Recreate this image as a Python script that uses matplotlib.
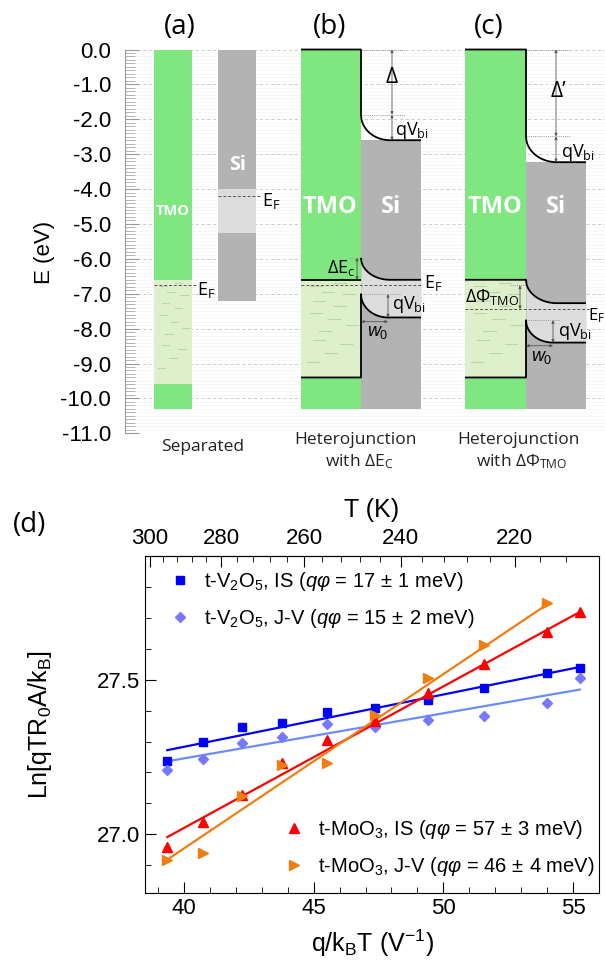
import numpy as np
import matplotlib
matplotlib.use("Agg")
import matplotlib.pyplot as plt
from matplotlib.ticker import MultipleLocator, FixedLocator, FormatStrFormatter

plt.rcParams["font.family"] = ["Liberation Sans", "DejaVu Sans"]
plt.rcParams["axes.unicode_minus"] = False
plt.rcParams["mathtext.fontset"] = "custom"
plt.rcParams["mathtext.rm"] = "Liberation Sans"
plt.rcParams["mathtext.it"] = "Liberation Sans:italic"
plt.rcParams["mathtext.sf"] = "Open Sans"

W, H = 605, 974

# ── (a)-(c) band energies (eV) ─────────────────────────────
# TMO: top, light band top, light band bottom, bottom, Fermi level
tmo_sep = [0.0, -6.6, -9.6, -10.3, -6.76]
tmo_het = [0.0, -6.6, -9.4, -10.3, -6.76]
# separated Si: top, gap top, gap bottom, bottom, Fermi level
si_sep = [0.0, -4.0, -5.25, -7.2, -4.2]
# heterojunction Si: [interface, bulk] for top edge, CB and VB
si_b_top = [-1.87, -2.6]
si_b_cb = [-5.97, -6.6]
si_b_vb = [-7.01, -7.68]
si_b_ef = -6.76
si_c_top = [-2.49, -3.23]
si_c_cb = [-6.6, -7.27]
si_c_vb = [-7.76, -8.4]
si_c_ef = -7.44
si_bottom = -10.3

# ── (d) Arrhenius data ────────────────────────────────────
inv_kT = [39.36, 40.75, 42.22, 43.78, 45.52, 47.37, 49.40, 51.58, 53.98, 55.26]
v2o5_is = [27.236, 27.299, 27.347, 27.361, 27.394, 27.408, 27.434, 27.472, 27.520, 27.538]
v2o5_jv = [27.209, 27.245, 27.294, 27.315, 27.356, 27.346, 27.369, 27.382, 27.425, 27.504]
moo3_is = [26.958, 27.039, 27.128, 27.231, 27.304, 27.366, 27.457, 27.552, 27.655, 27.719]
moo3_jv = [26.918, 26.938, 27.123, 27.225, 27.229, 27.385, 27.504, 27.612, 27.747]

fit_x = [39.36, 55.26]
fit_x_jv = [39.36, 54.10]
fit_v2o5_is = [27.272, 27.541]
fit_v2o5_jv = [27.236, 27.468]
fit_moo3_is = [26.991, 27.719]
fit_moo3_jv = [26.918, 27.749]

T_ticks = [300, 280, 260, 240, 220]
T_minor = list(range(212, 304, 4))
Q_OVER_K = 11604.5   # q/k_B in K/V

# ── Colours ───────────────────────────────────────────────
GREEN = "#80E680"
LGREEN = "#DDF0CB"
GREY = "#B3B3B3"
LGREY = "#DCDCDC"
ANN = "#555555"

fig = plt.figure(figsize=(W / 100, H / 100), dpi=100)


def fx(px):
    return px / W


def fy(py):
    return 1 - py / H


# ══════════════════════════════════════════════════════════
#  Band diagrams
# ══════════════════════════════════════════════════════════
ax = fig.add_axes([fx(125), fy(433.3), fx(605) - fx(125), fy(49.5) - fy(433.3)])
ax.set_xlim(125, 605)
ax.set_ylim(-11, 0)
for s in ["top", "right", "bottom"]:
    ax.spines[s].set_visible(False)
ax.spines["left"].set_color("#999999")
ax.xaxis.set_visible(False)
ax.yaxis.set_major_locator(MultipleLocator(1))
ax.yaxis.set_minor_locator(MultipleLocator(0.1))
ax.yaxis.set_major_formatter(FormatStrFormatter("%.1f"))
ax.tick_params(axis="y", which="major", direction="in", length=10, color="#999999",
               labelsize=16, pad=10)
ax.tick_params(axis="y", which="minor", direction="in", length=7, color="#aaaaaa", width=0.6)
ax.grid(True, which="major", axis="y", ls=(0, (4, 3)), color="#c4c4c4", lw=0.6)
ax.grid(True, which="minor", axis="y", ls="-", color="#f4f4f4", lw=0.5)
ax.set_axisbelow(True)
ax.set_ylabel("E (eV)", fontsize=16)
ax.yaxis.set_label_coords(-0.145, 0.47)

DASHES = [(0.15, 0.06), (0.55, 0.03), (0.35, 0.12), (0.7, 0.15), (0.2, 0.22),
          (0.55, 0.27), (0.15, 0.34), (0.45, 0.40), (0.75, 0.46), (0.3, 0.52),
          (0.2, 0.62), (0.65, 0.66), (0.4, 0.75), (0.1, 0.84)]


def block(x0, x1, top, bottom, color, z=1):
    ax.bar((x0 + x1) / 2, top - bottom, bottom=bottom, width=x1 - x0,
           color=color, lw=0, zorder=z)


def texture(x0, x1, top, bottom):
    for dx, dy in DASHES:
        xa = x0 + dx * (x1 - x0)
        ya = top + dy * (bottom - top)
        ax.plot([xa, xa + 0.2 * (x1 - x0)], [ya, ya], color="#bcd6ac", lw=0.8, zorder=2)


def bend(x0, w, x1, lev):
    t = np.linspace(0, 1, 60)
    xs = x0 + w * t
    ys = lev[1] + (lev[0] - lev[1]) * (1 - np.sqrt(1 - (1 - t) ** 2))
    return np.append(xs, x1), np.append(ys, lev[1])


def black(xs, ys):
    ax.plot(xs, ys, color="black", lw=1.3, zorder=5, clip_on=False, solid_capstyle="butt")


def dotted(x0, x1, y):
    ax.plot([x0, x1], [y, y], color="#999999", lw=0.7, ls=(0, (1, 1.2)), zorder=4)


def varrow(x, y0, y1):
    ax.annotate("", xy=(x, y1), xytext=(x, y0),
                arrowprops=dict(arrowstyle="<|-|>", color=ANN, lw=0.6,
                                mutation_scale=4, shrinkA=0, shrinkB=0), zorder=6)


def harrow(x0, x1, y):
    ax.annotate("", xy=(x1, y), xytext=(x0, y),
                arrowprops=dict(arrowstyle="<|-|>", color=ANN, lw=0.6,
                                mutation_scale=4, shrinkA=0, shrinkB=0), zorder=6)


def ef_line(x0, x1, y):
    ax.plot([x0, x1], [y, y], color="#555555", lw=0.7, ls=(0, (3, 2)), zorder=4)


LBL = dict(fontsize=13, family="Open Sans", va="center", zorder=7)

# (a) separated
block(154, 191.5, tmo_sep[0], tmo_sep[1], GREEN)
block(154, 191.5, tmo_sep[1], tmo_sep[2], LGREEN)
block(154, 191.5, tmo_sep[2], tmo_sep[3], GREEN)
texture(154, 191.5, tmo_sep[1], tmo_sep[2])
ef_line(154, 196, tmo_sep[4])
ax.text(197, tmo_sep[4] - 0.12, "E$_\\mathsf{F}$", **LBL)
block(218, 256, si_sep[0], si_sep[1], GREY)
block(218, 256, si_sep[1], si_sep[2], LGREY)
block(218, 256, si_sep[2], si_sep[3], GREY)
ef_line(218, 261, si_sep[4])
ax.text(262, si_sep[4] - 0.15, "E$_\\mathsf{F}$", **LBL)
ax.text(172.5, -4.63, "TMO", color="white", fontsize=10.5, fontweight="bold",
        family="Open Sans", ha="center", va="center", zorder=7)
ax.text(237, -3.3, "Si", color="white", fontsize=14, fontweight="bold",
        family="Open Sans", ha="center", va="center", zorder=7)

# (b) heterojunction with dEc
bx0, bi, bx1, bw = 301, 361, 421, 29
block(bx0, bi, tmo_het[0], tmo_het[1], GREEN)
block(bx0, bi, tmo_het[1], tmo_het[2], LGREEN)
block(bx0, bi, tmo_het[2], tmo_het[3], GREEN)
texture(bx0, bi, tmo_het[1], tmo_het[2])
block(bi, bx1, si_b_top[1], si_bottom, GREY)
xc, yc = bend(bi, bw, bx1, si_b_cb)
xv, yv = bend(bi, bw - 2, bx1, si_b_vb)
ax.fill_between(xc, yc, np.interp(xc, xv, yv), color=LGREY, lw=0, zorder=2)
xt, yt = bend(bi, bw, bx1, si_b_top)
black(np.r_[bx0, bi, xt], np.r_[0.0, 0.0, yt])
black(np.r_[bx0, bi], [tmo_het[1], tmo_het[1]])
black(xc, yc)
black(np.r_[xv[::-1], bi, bx0], np.r_[yv[::-1], tmo_het[2], tmo_het[2]])
ef_line(bx0, bx1, si_b_ef)
dotted(bi, 405, 0.0)
dotted(bi, 405, si_b_top[0])
dotted(349, bi, si_b_cb[0])
dotted(bi, 400, si_b_vb[0])
varrow(392, 0.0, si_b_top[0])
varrow(392, si_b_top[0], si_b_top[1])
varrow(357, si_b_cb[0], si_b_cb[1])
varrow(388, si_b_vb[0], si_b_vb[1])
harrow(bi, 388, -7.8)
ax.text(392, -0.8, "Δ", ha="center", **dict(LBL, fontsize=15))
ax.text(395, -2.33, "qV$_\\mathsf{bi}$", **LBL)
ax.text(355, -6.27, "ΔE$_\\mathsf{c}$", ha="right", **LBL)
ax.text(424, -6.7, "E$_\\mathsf{F}$", **LBL)
ax.text(392, -7.3, "qV$_\\mathsf{bi}$", **LBL)
ax.text(378, -8.1, "$w_0$", ha="center", **LBL)
ax.text(330, -4.5, "TMO", color="white", fontsize=17, fontweight="bold",
        family="Open Sans", ha="center", va="center", zorder=7)
ax.text(391, -4.5, "Si", color="white", fontsize=17, fontweight="bold",
        family="Open Sans", ha="center", va="center", zorder=7)

# (c) heterojunction with dPhi
cx0, ci, cx1, cw = 465, 526, 586, 31
block(cx0, ci, tmo_het[0], tmo_het[1], GREEN)
block(cx0, ci, tmo_het[1], tmo_het[2], LGREEN)
block(cx0, ci, tmo_het[2], tmo_het[3], GREEN)
texture(cx0, ci, tmo_het[1], tmo_het[2])
block(ci, cx1, si_c_top[1], si_bottom, GREY)
xc, yc = bend(ci, cw, cx1, si_c_cb)
xv, yv = bend(ci, cw - 4, cx1, si_c_vb)
ax.fill_between(xc, yc, np.interp(xc, xv, yv), color=LGREY, lw=0, zorder=2)
xt, yt = bend(ci, cw, cx1, si_c_top)
black(np.r_[cx0, ci, xt], np.r_[0.0, 0.0, yt])
black(np.r_[cx0, xc], np.r_[tmo_het[1], yc])
black(np.r_[xv[::-1], ci, cx0], np.r_[yv[::-1], tmo_het[2], tmo_het[2]])
ef_line(cx0, 589, si_c_ef)
dotted(ci, 570, 0.0)
dotted(ci, 570, si_c_top[0])
dotted(510, ci, tmo_het[4])
dotted(ci, 560, si_c_vb[0])
varrow(556, 0.0, si_c_top[0])
varrow(556, si_c_top[0], si_c_top[1])
varrow(520, tmo_het[4], si_c_ef)
varrow(553, si_c_vb[0], si_c_vb[1])
harrow(ci, 553, -8.49)
ax.text(558, -1.2, "Δ’", ha="center", **dict(LBL, fontsize=15))
ax.text(561, -2.95, "qV$_\\mathsf{bi}$", **LBL)
ax.text(519, -7.1, "ΔΦ$_\\mathsf{TMO}$", ha="right", **LBL)
ax.text(588, -7.62, "E$_\\mathsf{F}$", **dict(LBL, fontsize=12))
ax.text(558, -8.07, "qV$_\\mathsf{bi}$", **LBL)
ax.text(542, -8.8, "$w_0$", ha="center", **LBL)
ax.text(495, -4.5, "TMO", color="white", fontsize=17, fontweight="bold",
        family="Open Sans", ha="center", va="center", zorder=7)
ax.text(556, -4.5, "Si", color="white", fontsize=17, fontweight="bold",
        family="Open Sans", ha="center", va="center", zorder=7)

# panel letters and captions
for x, s in [(180, "(a)"), (330, "(b)"), (489, "(c)"), (30, "(d)")]:
    fig.text(fx(x), fy(27 if s != "(d)" else 525), s, fontsize=20, family="Open Sans",
             ha="center", va="center")
CAP = dict(fontsize=12.5, family="Open Sans", ha="center", va="center", color="#222222")
fig.text(fx(203), fy(447), "Separated", **CAP)
fig.text(fx(355), fy(440), "Heterojunction", **CAP)
fig.text(fx(359), fy(462), "with ΔE$_\\mathsf{C}$", **CAP)
fig.text(fx(518), fy(440), "Heterojunction", **CAP)
fig.text(fx(522), fy(462), "with ΔΦ$_\\mathsf{TMO}$", **CAP)

# ══════════════════════════════════════════════════════════
#  (d) Arrhenius plot
# ══════════════════════════════════════════════════════════
bx = fig.add_axes([fx(145), fy(893), fx(599) - fx(145), fy(556) - fy(893)])
bx.set_xlim(38.5, 56)
bx.set_ylim(26.81, 27.90)

bx.plot(fit_x, fit_v2o5_is, color="#0000FF", lw=1.6, zorder=2)
bx.plot(fit_x, fit_v2o5_jv, color="#6B8CFF", lw=1.6, zorder=2)
bx.plot(fit_x, fit_moo3_is, color="#FF0000", lw=1.6, zorder=2)
bx.plot(fit_x_jv, fit_moo3_jv, color="#F07D12", lw=1.6, zorder=2)

PM = "$\\,\\pm\\,$"
h1, = bx.plot(inv_kT, v2o5_is, "s", color="#0000FF", ms=6, ls="none", zorder=3,
              label="t-V$_\\mathrm{2}$O$_\\mathrm{5}$, IS ($q\\varphi$ = 17" + PM + "1 meV)")
h2, = bx.plot(inv_kT, v2o5_jv, "D", color="#7878FF", ms=5.5, ls="none", zorder=3,
              label="t-V$_\\mathrm{2}$O$_\\mathrm{5}$, J-V ($q\\varphi$ = 15" + PM + "2 meV)")
h3, = bx.plot(inv_kT, moo3_is, "^", color="#FF0000", ms=7, ls="none", zorder=3,
              label="t-MoO$_\\mathrm{3}$, IS ($q\\varphi$ = 57" + PM + "3 meV)")
h4, = bx.plot(inv_kT[:len(moo3_jv)], moo3_jv, ">", color="#F07D12", ms=7, ls="none", zorder=3,
              label="t-MoO$_\\mathrm{3}$, J-V ($q\\varphi$ = 46" + PM + "4 meV)")

LEG = dict(frameon=False, fontsize=14.5, handlelength=1.0, handletextpad=0.7,
           borderaxespad=0, borderpad=0, labelspacing=0.7)
leg1 = bx.legend(handles=[h1, h2], loc="upper left", bbox_to_anchor=(0.054, 0.958), **LEG)
bx.add_artist(leg1)
bx.legend(handles=[h3, h4], loc="lower right", bbox_to_anchor=(0.99, 0.045), **LEG)

bx.xaxis.set_major_locator(MultipleLocator(5))
bx.xaxis.set_minor_locator(MultipleLocator(1))
bx.yaxis.set_major_locator(MultipleLocator(0.5))
bx.yaxis.set_minor_locator(MultipleLocator(0.1))
bx.tick_params(which="both", direction="in", top=False, right=False, labelsize=16)
bx.tick_params(which="major", length=8)
bx.tick_params(which="minor", length=4)
bx.set_xlabel("q/k$_\\mathrm{B}$T (V$^\\mathrm{-1}$)", fontsize=18, labelpad=6)
bx.set_ylabel("Ln[qTR$_\\mathrm{0}$A/k$_\\mathrm{B}$]", fontsize=18)
bx.yaxis.set_label_coords(-0.2, 0.5)

with np.errstate(divide="ignore"):
    top = bx.secondary_xaxis("top", functions=(lambda x: Q_OVER_K / np.asarray(x, float),
                                               lambda t: Q_OVER_K / np.asarray(t, float)))
top.xaxis.set_major_locator(FixedLocator(T_ticks))
top.xaxis.set_minor_locator(FixedLocator(T_minor))
top.tick_params(which="both", direction="in", labelsize=16, pad=5)
top.tick_params(which="major", length=8)
top.tick_params(which="minor", length=4)
top.set_xlabel("T (K)", fontsize=18, labelpad=8)

fig.savefig("out.png", dpi=100)
